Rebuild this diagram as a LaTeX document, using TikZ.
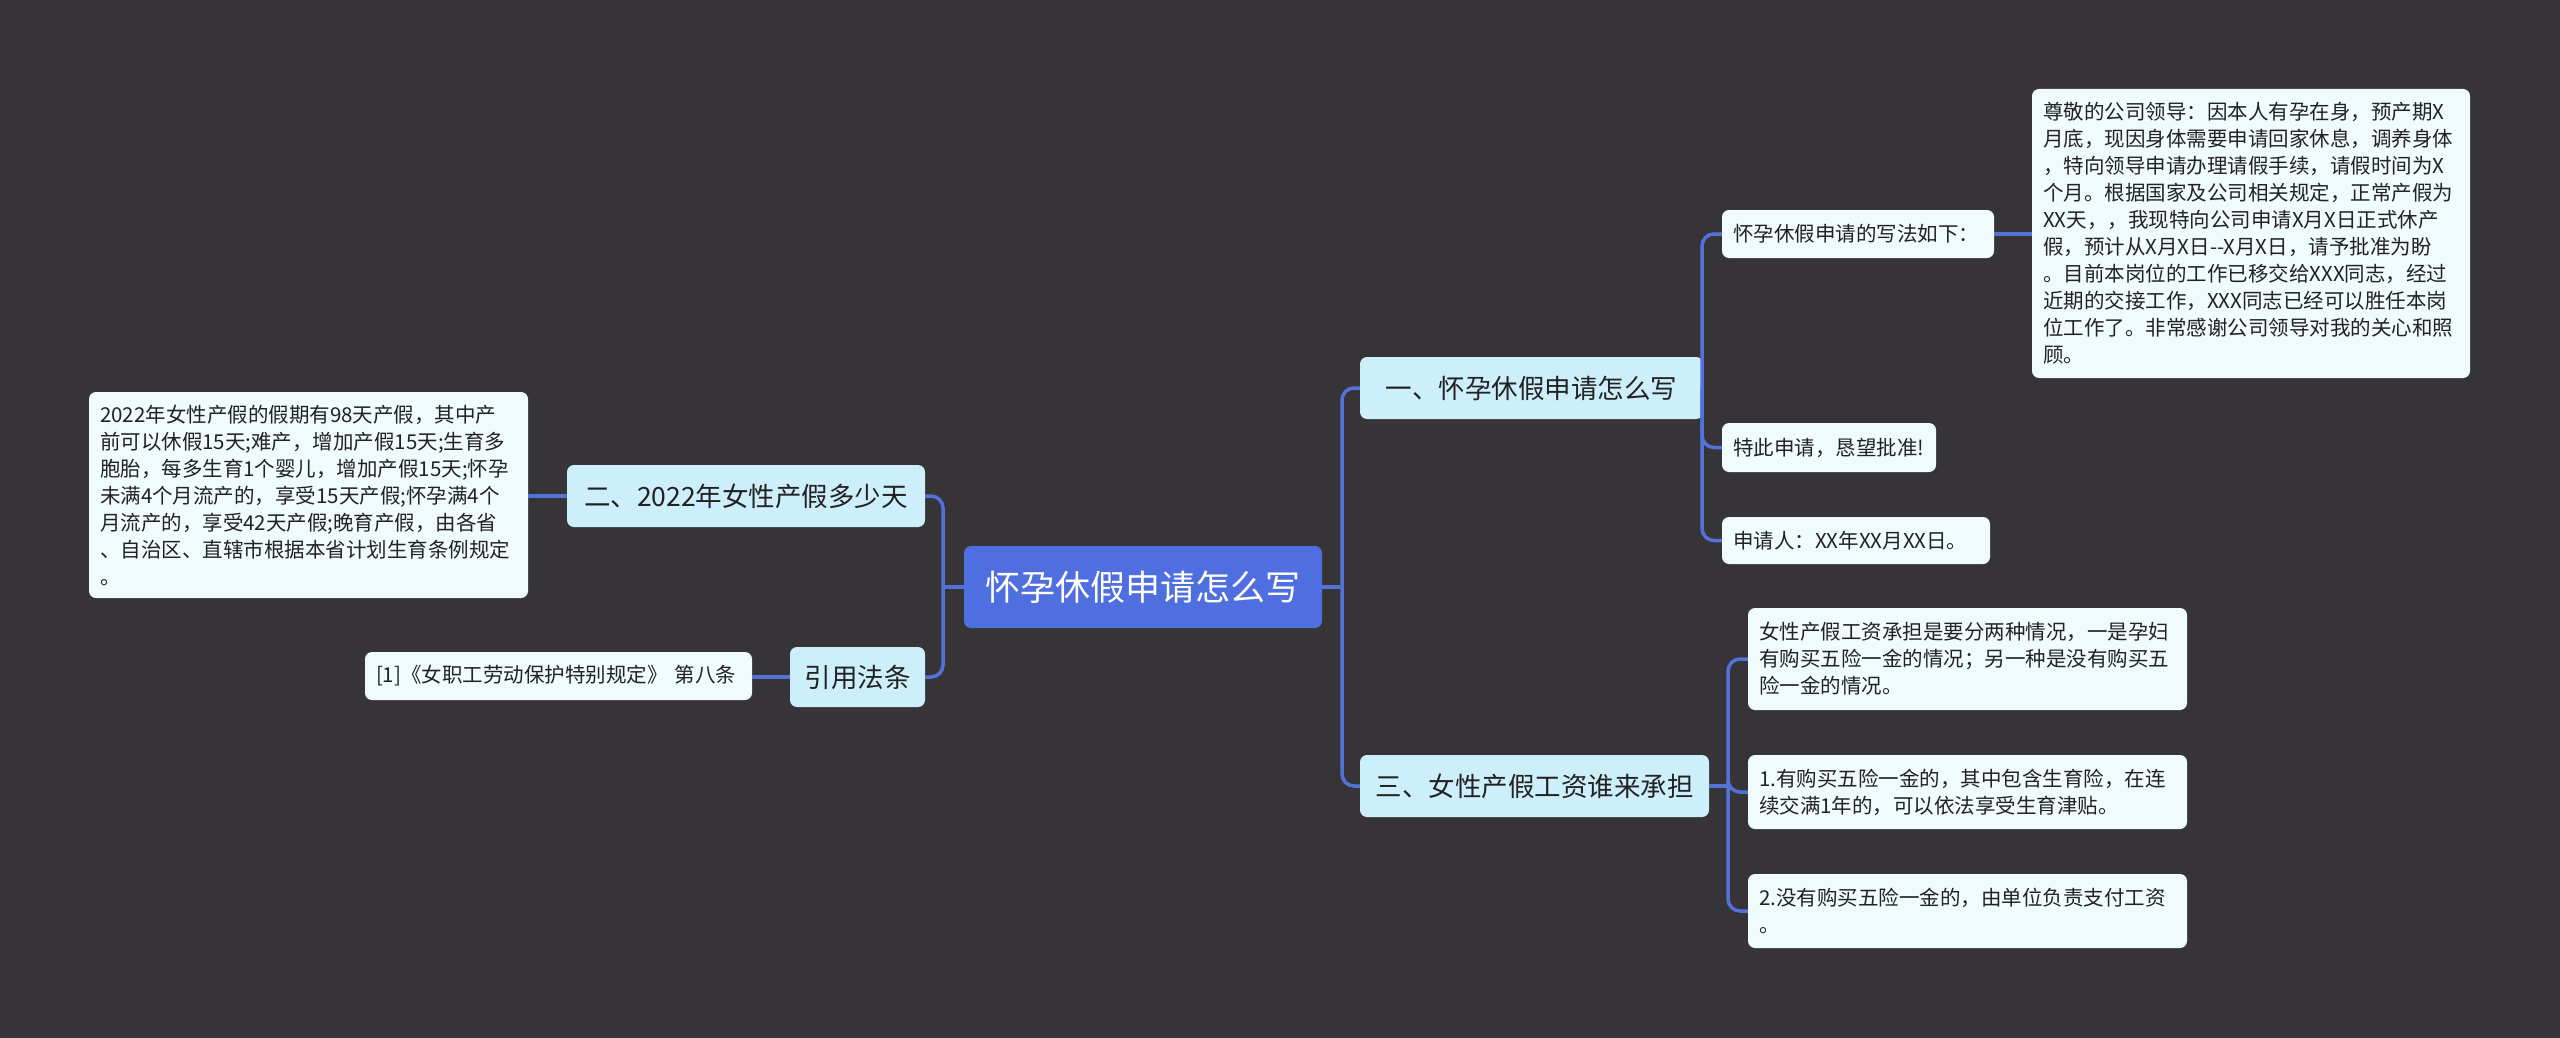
\documentclass[tikz,border=0pt]{standalone}
\usepackage{fontspec}
\setmainfont{Noto Sans CJK SC}
\definecolor{bgc}{HTML}{363436}
\definecolor{linec}{HTML}{5272DA}
\definecolor{rootc}{HTML}{4F6FE0}
\definecolor{lonec}{HTML}{CDEEFB}
\definecolor{leafc}{HTML}{F0FBFE}
\definecolor{txtc}{HTML}{222222}
\begin{document}
\begin{tikzpicture}[x=1pt,y=-1pt,
  box/.style={rounded corners=7pt, inner sep=0pt, align=center},
  rootbox/.style={box, fill=rootc, text=white, font=\fontsize{35}{42}\selectfont},
  lonebox/.style={box, fill=lonec, text=txtc, font=\fontsize{26.5}{32}\selectfont},
  leafbox/.style={box, fill=leafc, text=txtc, font=\fontsize{20.5}{27}\selectfont, align=left, inner xsep=11pt, inner ysep=0pt},
  conn/.style={draw=linec, line width=3.5pt, rounded corners=12pt}]
\fill[bgc] (0,0) rectangle (2560,1038);
\useasboundingbox (0,0) rectangle (2560,1038);

% root
\node[rootbox, minimum width=358pt, minimum height=82pt] (root) at (1143,587) {怀孕休假申请怎么写};

% level 1
\node[lonebox, minimum width=343pt, minimum height=62pt] (n1) at (1531.5,388) {一、怀孕休假申请怎么写};
\node[lonebox, minimum width=349pt, minimum height=62pt] (n3) at (1534.5,786) {三、女性产假工资谁来承担};
\node[lonebox, minimum width=358pt, minimum height=62pt] (n2) at (746,496) {二、2022年女性产假多少天};
\node[lonebox, minimum width=135pt, minimum height=60pt] (n4) at (857.5,677) {引用法条};

% leaves right top
\node[leafbox, text width=250pt, minimum height=48pt] (a1) at (1858,234) {怀孕休假申请的写法如下：};
\node[leafbox, text width=416pt, minimum height=289pt] (a1x) at (2251,233.5) {尊敬的公司领导：因本人有孕在身，预产期X\\月底，现因身体需要申请回家休息，调养身体\\，特向领导申请办理请假手续，请假时间为X\\个月。根据国家及公司相关规定，正常产假为\\XX天，，我现特向公司申请X月X日正式休产\\假，预计从X月X日-{}-X月X日，请予批准为盼\\。目前本岗位的工作已移交给XXX同志，经过\\近期的交接工作，XXX同志已经可以胜任本岗\\位工作了。非常感谢公司领导对我的关心和照\\顾。};
\node[leafbox, text width=192pt, minimum height=49pt] (a2) at (1829,447.5) {特此申请，恳望批准!};
\node[leafbox, text width=246pt, minimum height=47pt] (a3) at (1856,540.5) {申请人：XX年XX月XX日。};

% leaves right bottom
\node[leafbox, text width=417pt, minimum height=102pt] (b1) at (1967.5,659) {女性产假工资承担是要分两种情况，一是孕妇\\有购买五险一金的情况；另一种是没有购买五\\险一金的情况。};
\node[leafbox, text width=417pt, minimum height=74pt] (b2) at (1967.5,792) {1.有购买五险一金的，其中包含生育险，在连\\续交满1年的，可以依法享受生育津贴。};
\node[leafbox, text width=417pt, minimum height=74pt] (b3) at (1967.5,911) {2.没有购买五险一金的，由单位负责支付工资\\。};

% leaves left
\node[leafbox, text width=417pt, minimum height=206pt] (c1) at (308.5,495) {2022年女性产假的假期有98天产假，其中产\\前可以休假15天;难产，增加产假15天;生育多\\胞胎，每多生育1个婴儿，增加产假15天;怀孕\\未满4个月流产的，享受15天产假;怀孕满4个\\月流产的，享受42天产假;晚育产假，由各省\\、自治区、直辖市根据本省计划生育条例规定\\。};
\node[leafbox, text width=365pt, minimum height=48pt] (d1) at (558.5,676) {[1]《女职工劳动保护特别规定》 第八条};

% junctions
\coordinate (rj) at (1342,587);
\coordinate (lj) at (943,587);
\coordinate (j1) at (1702,388);
\coordinate (j3) at (1728,786);

% connectors
\draw[conn] (root.east) -- (rj);
\draw[conn] (rj) |- (n1.west);
\draw[conn] (rj) |- (n3.west);
\draw[conn] (root.west) -- (lj);
\draw[conn] (lj) |- (n2.east);
\draw[conn] (lj) |- (n4.east);
\draw[conn] (n1.east) -- (j1);
\draw[conn] (j1) |- (a1.west);
\draw[conn] (j1) |- (a2.west);
\draw[conn] (j1) |- (a3.west);
\draw[conn] (a1.east) -- (a1.east -| a1x.west);
\draw[conn] (n3.east) -- (j3);
\draw[conn] (j3) |- (b1.west);
\draw[conn] (j3) |- (b2.west);
\draw[conn] (j3) |- (b3.west);
\draw[conn] (n2.west) -- (n2.west -| c1.east);
\draw[conn] (n4.west) -- (n4.west -| d1.east);
\end{tikzpicture}
\end{document}
